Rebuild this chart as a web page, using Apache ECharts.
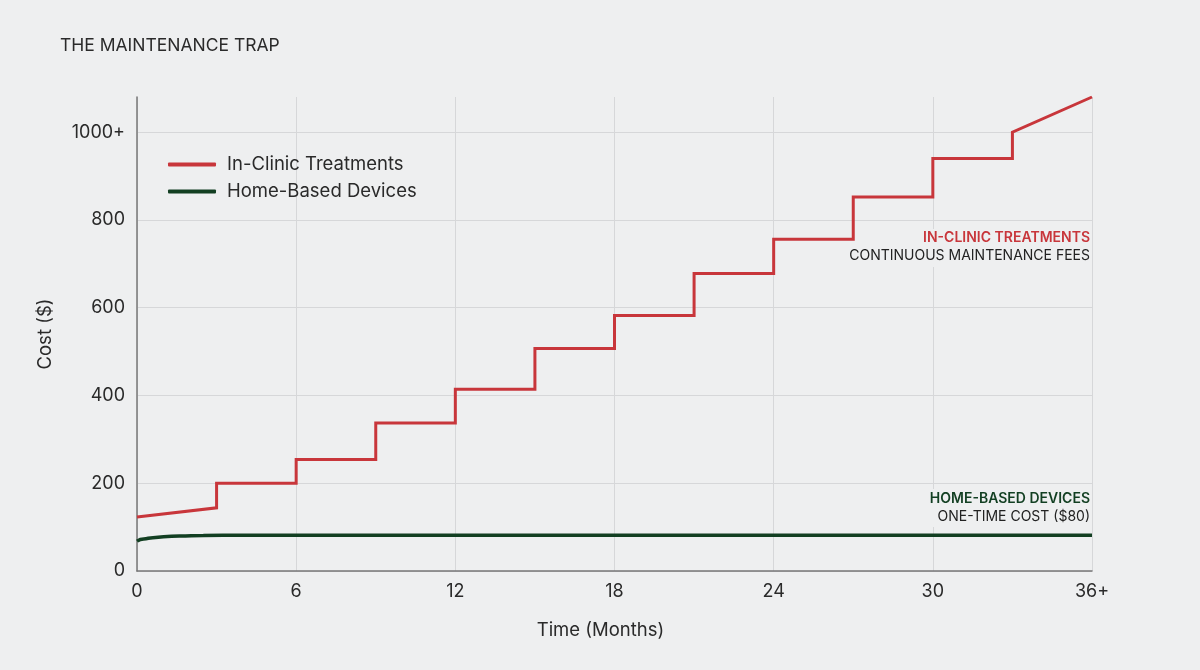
<!DOCTYPE html>
<html>
<head>
<meta charset="utf-8">
<title>The Maintenance Trap</title>
<script src="https://cdn.jsdelivr.net/npm/echarts@6/dist/echarts.min.js"></script>
<style>
  html, body { margin: 0; padding: 0; background: #eeeff0; }
  #chart { width: 1200px; height: 670px; }
</style>
</head>
<body>
<div id="chart"></div>
<script>
// values: [month, cost]
const clinicCost = [
  [0, 123], [3, 144], [3, 200], [6, 200], [6, 254], [9, 254], [9, 337],
  [12, 337], [12, 414], [15, 414], [15, 507], [18, 507], [18, 582],
  [21, 582], [21, 678], [24, 678], [24, 756], [27, 756], [27, 852],
  [30, 852], [30, 940], [33, 940], [33, 1000], [36, 1080]
]
const homeCost = [
  [0, 68], [0.25, 73], [0.6, 76], [1, 78], [1.6, 80], [2.5, 81], [4, 81.5], [36, 81.5]
]
const seriesNames = ['In-Clinic Treatments', 'Home-Based Devices']
const xTicks = { 0: '0', 6: '6', 12: '12', 18: '18', 24: '24', 30: '30', 36: '36+' }
const yTicks = { 0: '0', 200: '200', 400: '400', 600: '600', 800: '800', 1000: '1000+' }

const RED = '#c8363b'
const GREEN = '#123f22'
const BG = '#eeeff0'
const FONT = 'Inter, "Noto Sans", sans-serif'

const chart = echarts.init(document.getElementById('chart'))

const option = {
  backgroundColor: BG,
  textStyle: { fontFamily: FONT },
  title: {
    text: 'THE MAINTENANCE TRAP',
    left: 55,
    top: 32,
    textStyle: { fontSize: 17.5, fontWeight: 'normal', color: '#2a2a2a', fontFamily: FONT }
  },
  legend: {
    orient: 'vertical',
    left: 163,
    top: 149,
    itemWidth: 48,
    itemHeight: 4,
    itemGap: 6,
    icon: 'roundRect',
    data: seriesNames,
    textStyle: { fontSize: 18.5, color: '#2a2a2a', lineHeight: 21, padding: [0, 0, 0, 6] }
  },
  grid: { left: 137, right: 108, top: 97, bottom: 99 },
  xAxis: {
    type: 'value',
    min: 0,
    max: 36,
    interval: 6,
    name: 'Time (Months)',
    nameLocation: 'middle',
    nameGap: 50,
    nameTextStyle: { fontSize: 18.5, color: '#2a2a2a', padding: [0, 28, 0, 0] },
    axisLine: { show: true, lineStyle: { color: '#777', width: 1.5 } },
    axisTick: { show: false },
    axisLabel: { fontSize: 18, color: '#2a2a2a', margin: 12, formatter: v => xTicks[v] ?? '' },
    splitLine: { show: true, lineStyle: { color: '#d6d7d9', width: 1 } }
  },
  yAxis: {
    type: 'value',
    min: 0,
    max: 1080,
    interval: 200,
    name: 'Cost ($)',
    nameLocation: 'middle',
    nameGap: 82,
    nameTextStyle: { fontSize: 18.5, color: '#2a2a2a' },
    axisLine: { show: true, lineStyle: { color: '#777', width: 1.5 } },
    axisTick: { show: false },
    axisLabel: { fontSize: 18, color: '#2a2a2a', margin: 12, formatter: v => yTicks[v] ?? '' },
    splitLine: {
      show: true,
      lineStyle: {
        // last split line sits on the 1080 extent, keep it invisible
        color: ['#d6d7d9', '#d6d7d9', '#d6d7d9', '#d6d7d9', '#d6d7d9', '#d6d7d9', 'rgba(0,0,0,0)'],
        width: 1
      }
    }
  },
  series: [
    {
      name: seriesNames[0],
      type: 'line',
      data: clinicCost,
      showSymbol: false,
      color: RED,
      lineStyle: { width: 3, color: RED, join: 'miter' },
      z: 3
    },
    {
      name: seriesNames[1],
      type: 'line',
      data: homeCost,
      showSymbol: false,
      smooth: 0.5,
      smoothMonotone: 'x',
      color: GREEN,
      lineStyle: { width: 3.5, color: GREEN },
      z: 3
    }
  ],
  graphic: [
    {
      type: 'group',
      right: 108,
      top: 229,
      children: [
        // background patch hides grid lines behind the note, stays under the series
        { type: 'rect', z: 1, shape: { x: -243, y: 0, width: 245, height: 38 }, style: { fill: BG } },
        { type: 'text', z: 5, style: { x: 0, y: 2, text: 'IN-CLINIC TREATMENTS', fill: RED, font: '600 14px ' + FONT, align: 'right' } },
        { type: 'text', z: 5, style: { x: 0, y: 20, text: 'CONTINUOUS MAINTENANCE FEES', fill: '#222', font: '14px ' + FONT, align: 'right' } }
      ]
    },
    {
      type: 'group',
      right: 108,
      top: 489,
      children: [
        { type: 'rect', z: 1, shape: { x: -170, y: 0, width: 172, height: 38 }, style: { fill: BG } },
        { type: 'text', z: 5, style: { x: 0, y: 3, text: 'HOME-BASED DEVICES', fill: GREEN, font: '600 14px ' + FONT, align: 'right' } },
        { type: 'text', z: 5, style: { x: 0, y: 21, text: 'ONE-TIME COST ($80)', fill: '#222', font: '14px ' + FONT, align: 'right' } }
      ]
    }
  ]
}

chart.setOption(option)
</script>
</body>
</html>
